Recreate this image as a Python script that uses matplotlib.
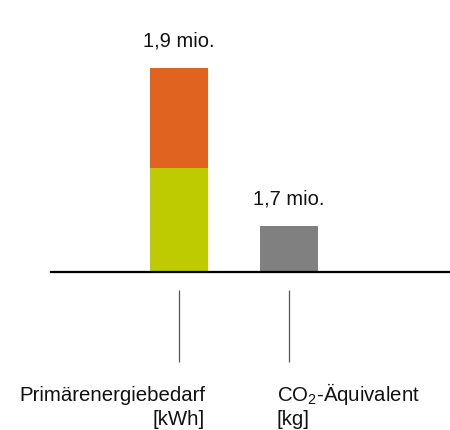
import numpy as np
import matplotlib
matplotlib.use("Agg")
import matplotlib.pyplot as plt

plt.rcParams["font.family"] = ["Liberation Sans", "DejaVu Sans"]
plt.rcParams["mathtext.fontset"] = "custom"
plt.rcParams["mathtext.rm"] = "Liberation Sans"
plt.rcParams["mathtext.it"] = "Liberation Sans"

# Werte in Mio. (Balkenhöhen)
cat_names = ["Primärenergiebedarf", "CO$_2$-Äquivalent"]
cat_units = ["[kWh]", "[kg]"]
lower_part = [0.97, 0.43]
upper_part = [0.93, 0.0]
value_labels = ["1,9 mio.", "1,7 mio."]

COL_GREEN = "#BECB00"
COL_ORANGE = "#E06320"
COL_GREY = "#808080"

W, H = 450, 430
fig = plt.figure(figsize=(W / 100, H / 100), dpi=100)
base_px = 272
ax = fig.add_axes([51 / W, (H - base_px) / H, 1 - 51 / W, base_px / H])

x = np.arange(len(cat_names))
bar_w = 58 / 110

ax.bar(x[0], lower_part[0], width=bar_w, color=COL_GREEN)
ax.bar(x[0], upper_part[0], width=bar_w, bottom=lower_part[0], color=COL_ORANGE)
ax.bar(x[1], lower_part[1], width=bar_w, color=COL_GREY)

ax.set_xlim(-128 / 110, 271 / 110)
ax.set_ylim(0, 1.9 * base_px / 204)

for xi, lo, up, lab in zip(x, lower_part, upper_part, value_labels):
    ax.annotate(lab, (xi, lo + up), xytext=(0, 19.5), textcoords="offset points",
                ha="center", va="center", fontsize=14.5, color="#111111")

for s in ["top", "right", "left"]:
    ax.spines[s].set_visible(False)
ax.spines["bottom"].set_linewidth(1.6)
ax.spines["bottom"].set_color("black")
ax.set_xticks([])
ax.set_yticks([])

# dünne Verbindungslinien unter der Achse
trans = ax.get_xaxis_transform()
ax.vlines(x, -18 / base_px, -90 / base_px, transform=trans, color="#555555",
          linewidth=0.9, clip_on=False)

# Beschriftungen: erste links rechtsbündig, zweite linksbündig
label_x = [x[0] + 26 / 110, x[1] - 12 / 110]
label_ha = ["right", "left"]
for lx, ha, name, unit in zip(label_x, label_ha, cat_names, cat_units):
    ax.text(lx, -129 / base_px, name, transform=trans, ha=ha, va="baseline",
            fontsize=14.7, color="#111111")
    ax.text(lx, -153 / base_px, unit, transform=trans, ha=ha, va="baseline",
            fontsize=14.7, color="#111111")

fig.savefig("out.png", dpi=100)
